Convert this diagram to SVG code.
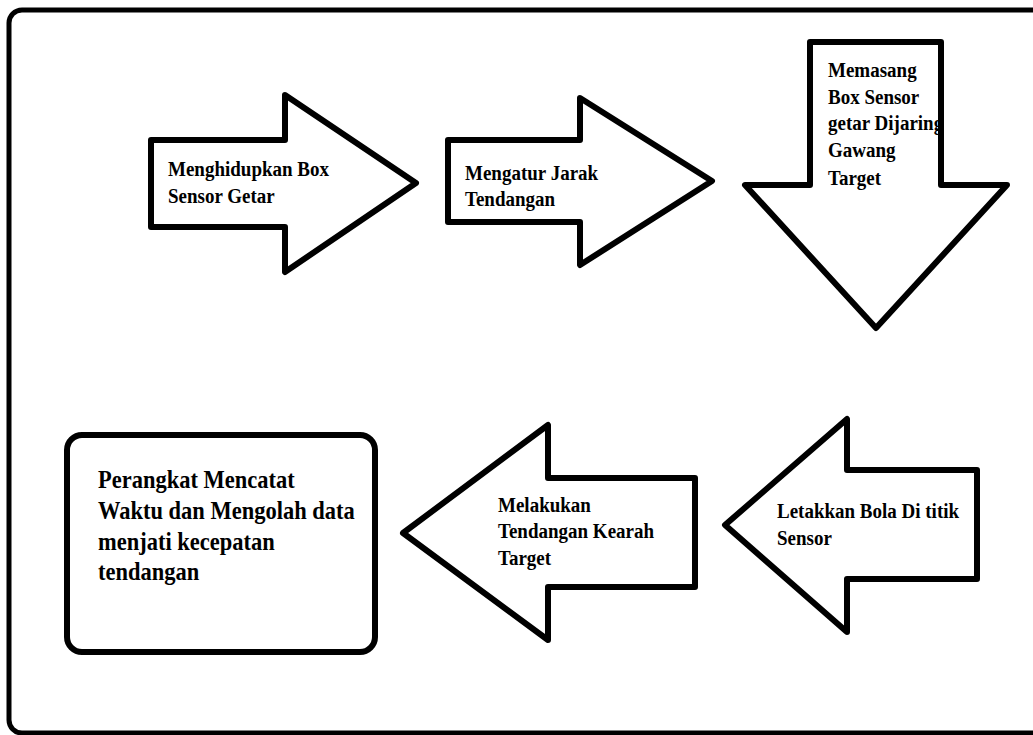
<svg xmlns="http://www.w3.org/2000/svg" width="1033" height="735" viewBox="0 0 1033 735">
<style>
.shape{fill:#fff;stroke:#000;stroke-width:6;stroke-linejoin:round}
.frame{fill:#fff;stroke:#000;stroke-width:5}
.lbl{font-family:"Liberation Serif","Times New Roman",serif;font-weight:bold;font-size:19px;fill:#000}
.big{font-size:22.5px}
</style>
<defs>
<clipPath id="clip3"><rect x="800" y="40" width="139" height="200"/></clipPath>
</defs>
<rect class="frame" x="9" y="10" width="1045" height="723" rx="13"/>
<g id="node-1">
<polygon class="shape" points="151,140 285,140 285,95 416,183 285,272 285,227 151,227"/>
<text class="lbl" transform="translate(168,176) scale(1,1.15)"><tspan x="0" y="0">Menghidupkan Box</tspan><tspan x="0" y="23.5">Sensor Getar</tspan></text>
</g>
<g id="node-2">
<polygon class="shape" points="448,140 580,140 580,98 712,181 580,265 580,222 448,222"/>
<text class="lbl" transform="translate(465,180) scale(1,1.15)"><tspan x="0" y="0">Mengatur Jarak</tspan><tspan x="0" y="22.6">Tendangan</tspan></text>
</g>
<g id="node-3">
<polygon class="shape" points="810,42 941,42 941,185 1007,185 876,328 745,185 810,185"/>
<g clip-path="url(#clip3)">
<text class="lbl" transform="translate(828,77) scale(1,1.15)"><tspan x="0" y="0">Memasang</tspan><tspan x="0" y="23.5">Box Sensor</tspan><tspan x="0" y="46">getar Dijaring</tspan><tspan x="0" y="70">Gawang</tspan><tspan x="0" y="93.5">Target</tspan></text>
</g>
</g>
<g id="node-4">
<polygon class="shape" points="725,525 847,419 847,470 977,470 977,579 847,579 847,632"/>
<text class="lbl" transform="translate(777,518) scale(1,1.15)"><tspan x="0" y="0">Letakkan Bola Di titik</tspan><tspan x="0" y="23.5">Sensor</tspan></text>
</g>
<g id="node-5">
<polygon class="shape" points="403,533 548,425 548,478 695,478 695,587 548,587 548,640"/>
<text class="lbl" transform="translate(498,512) scale(1,1.15)"><tspan x="0" y="0">Melakukan</tspan><tspan x="0" y="23">Tendangan Kearah</tspan><tspan x="0" y="46">Target</tspan></text>
</g>
<g id="node-6">
<rect class="shape" x="67" y="435" width="308" height="217" rx="15"/>
<text class="lbl big" transform="translate(98,488) scale(1,1.12)"><tspan x="0" y="0">Perangkat Mencatat</tspan><tspan x="0" y="28">Waktu dan Mengolah data</tspan><tspan x="0" y="55">menjati kecepatan</tspan><tspan x="0" y="82">tendangan</tspan></text>
</g>
<g id="connectors"></g>
</svg>
